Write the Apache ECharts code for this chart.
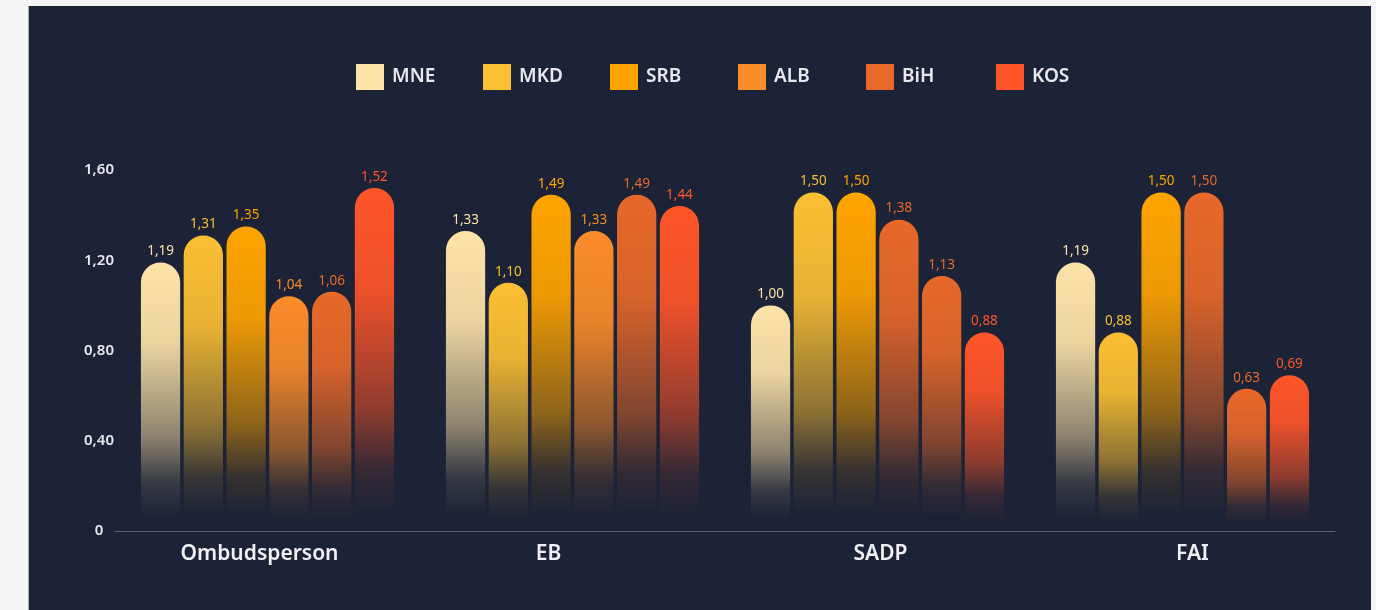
<!DOCTYPE html>
<html>
<head>
<meta charset="utf-8">
<script src="https://cdn.jsdelivr.net/npm/echarts@6/dist/echarts.min.js"></script>
<style>
  html, body { margin: 0; padding: 0; background: #f5f5f5; }
  #chart {
    position: absolute; left: 28px; top: 6px;
    width: 1343px; height: 604px;
    background: #1c2336;
    border-left: 1px solid #a9abb3;
    box-sizing: border-box;
  }
</style>
</head>
<body>
<div id="chart"></div>
<script>
// categorias e valores
const categories = ['Ombudsperson', 'EB', 'SADP', 'FAI'];
const seriesNames = ['MNE', 'MKD', 'SRB', 'ALB', 'BiH', 'KOS'];
const MNE = [1.19, 1.33, 1.00, 1.19];
const MKD = [1.31, 1.10, 1.50, 0.88];
const SRB = [1.35, 1.49, 1.50, 1.50];
const ALB = [1.04, 1.33, 1.38, 1.50];
const BiH = [1.06, 1.49, 1.13, 0.63];
const KOS = [1.52, 1.44, 0.88, 0.69];
const yTicks = [0, 0.4, 0.8, 1.2, 1.6];

const values = [MNE, MKD, SRB, ALB, BiH, KOS];
const colors = ['#fde3a8', '#fbbf33', '#ffa400', '#fb8c2a', '#e8692a', '#ff5529'];
// no original, ALB em SADP e FAI aparece com a cor de BiH
const albAltIdx = [2, 3];
// posição de cada item da legenda (largura fixa por item)
const legendLeft = [322, 449, 576, 704, 832, 962];
// deslocamento horizontal dos rótulos do eixo x
const labelShift = [-8, -24, 3, 10];

const fmt = v => v === 0 ? '0' : v.toFixed(2).replace('.', ',');

const hexA = (hex, a) => {
    const n = parseInt(hex.slice(1), 16);
    return `rgba(${(n >> 16) & 255},${(n >> 8) & 255},${n & 255},${a})`;
};

const grad = c => new echarts.graphic.LinearGradient(0, 0, 0, 1, [
    { offset: 0, color: hexA(c, 1) },
    { offset: 0.3, color: hexA(c, 0.92) },
    { offset: 0.65, color: hexA(c, 0.5) },
    { offset: 0.82, color: hexA(c, 0.12) },
    { offset: 0.95, color: hexA(c, 0) }
]);

const font = '"Noto Sans", sans-serif';

const series = seriesNames.map((name, i) => ({
    name: name,
    type: 'bar',
    barGap: '9%',
    barCategoryGap: '17%',
    data: values[i].map((v, j) => {
        if (name === 'ALB' && albAltIdx.includes(j)) {
            return {
                value: v,
                itemStyle: { color: grad(colors[4]) },
                label: { color: colors[4] }
            };
        }
        return v;
    }),
    itemStyle: {
        color: grad(colors[i]),
        borderRadius: [20, 20, 0, 0]
    },
    label: {
        show: true,
        position: 'top',
        distance: 4,
        color: colors[i],
        fontSize: 13.5,
        fontFamily: font,
        formatter: p => fmt(p.value)
    }
}));

const legends = seriesNames.map((n, i) => ({
    left: legendLeft[i],
    top: 53,
    icon: 'rect',
    itemWidth: 28,
    itemHeight: 26,
    itemGap: 0,
    data: [{ name: n, itemStyle: { color: colors[i] } }],
    textStyle: {
        color: '#e8e8ee',
        fontSize: 19,
        fontWeight: 600,
        fontFamily: font,
        padding: [0, 0, 0, 3]
    }
}));

const richX = {};
labelShift.forEach((s, i) => {
    richX['c' + i] = {
        color: '#f0f0f2',
        fontSize: 21,
        fontWeight: 600,
        fontFamily: font,
        padding: s < 0 ? [0, -2 * s, 0, 0] : [0, 0, 0, 2 * s]
    };
});

const myChart = echarts.init(document.getElementById('chart'));
myChart.setOption({
    backgroundColor: 'transparent',
    animation: false,
    color: colors,
    legend: legends,
    grid: { left: 86, right: 36, top: 164, bottom: 79 },
    xAxis: {
        type: 'category',
        data: categories,
        axisLine: { lineStyle: { color: '#5b6275', width: 1 } },
        axisTick: { show: false },
        axisLabel: {
            color: '#f0f0f2',
            fontSize: 21,
            fontWeight: 600,
            fontFamily: font,
            margin: 13,
            formatter: (v, idx) => `{c${idx}|${v}}`,
            rich: richX
        }
    },
    yAxis: {
        type: 'value',
        min: yTicks[0],
        max: yTicks[yTicks.length - 1],
        interval: 0.4,
        splitLine: { show: false },
        axisLine: { show: false },
        axisTick: { show: false },
        axisLabel: {
            color: '#e8e8ee',
            fontSize: 15,
            fontWeight: 600,
            fontFamily: font,
            align: 'center',
            margin: 16,
            formatter: v => fmt(v)
        }
    },
    series: series
});
</script>
</body>
</html>
